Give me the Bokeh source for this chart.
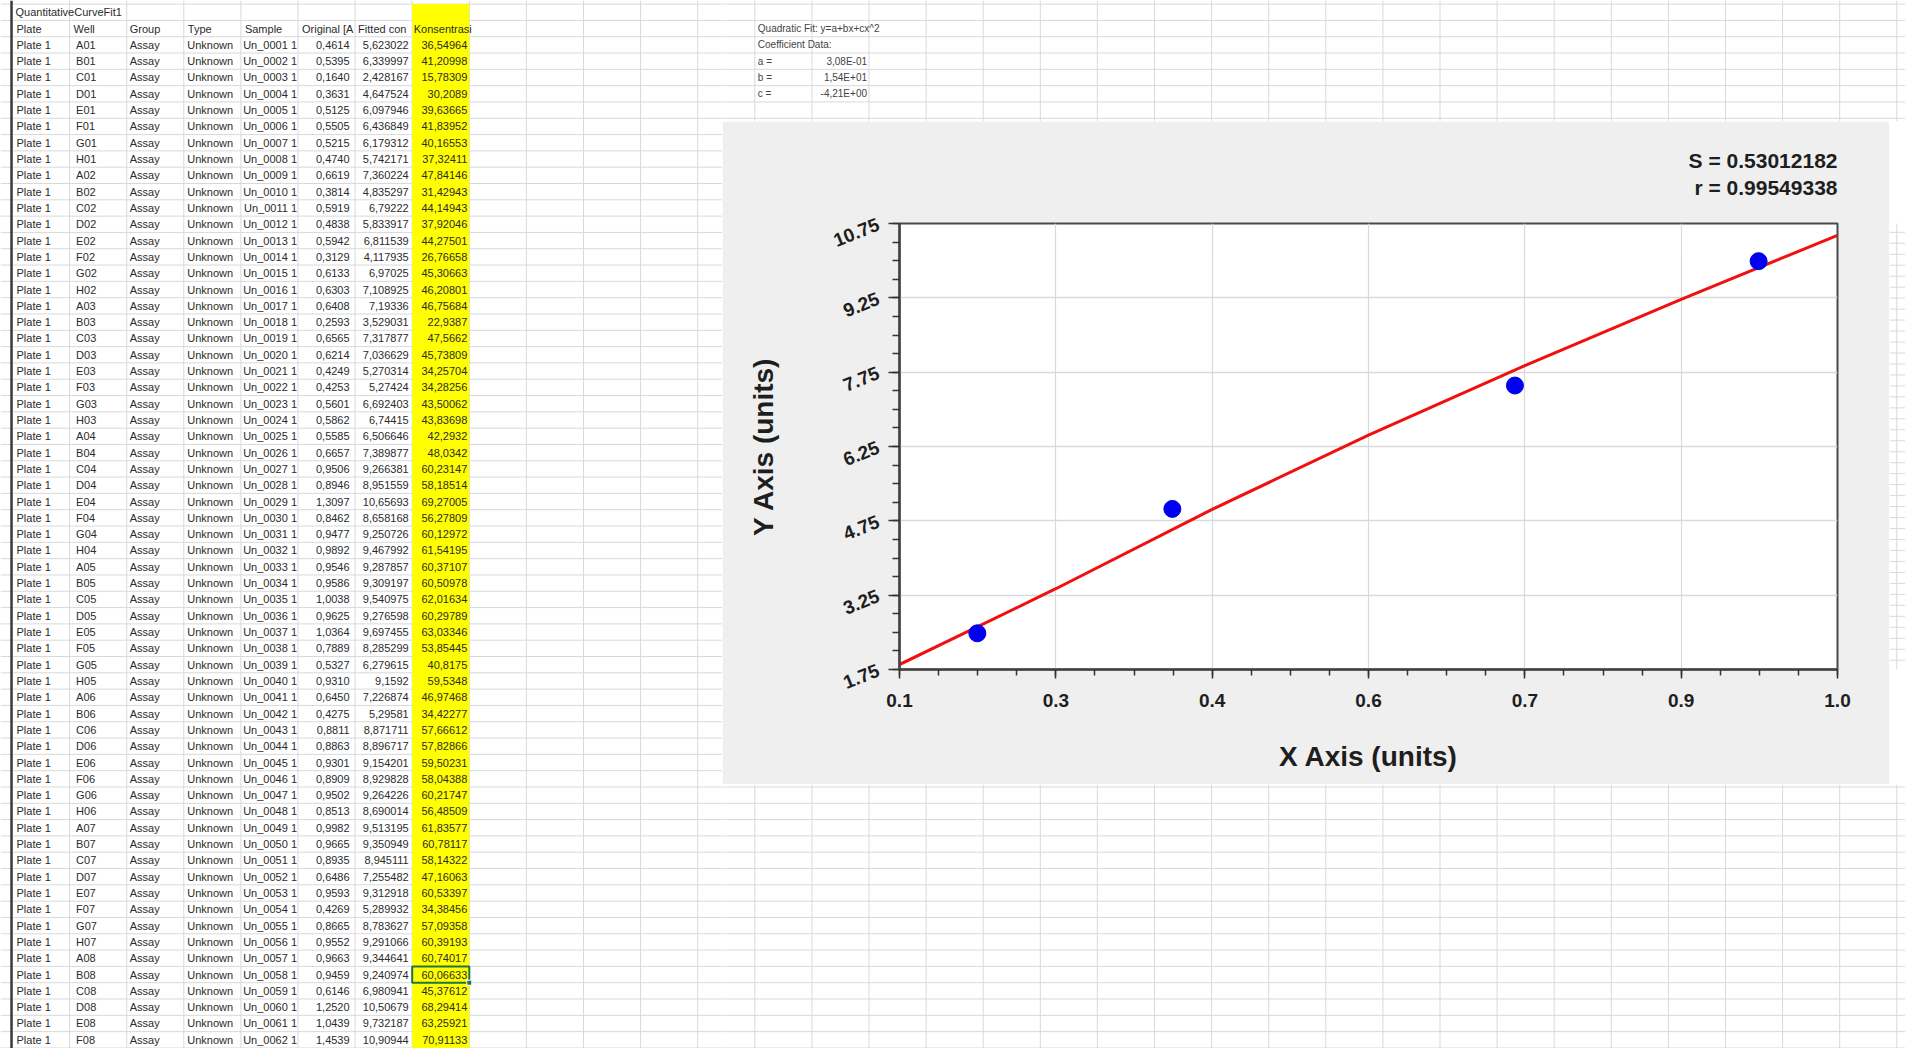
import numpy as np
from bokeh.plotting import figure
from bokeh.layouts import row, column
from bokeh.models import Range1d, FixedTicker, Title
from bokeh.core.properties import value
from bokeh.embed import file_html
from bokeh.resources import INLINE

# ---------------- spreadsheet data ----------------
sheet_title = "QuantitativeCurveFit1"
headers = ["Plate", "Well", "Group", "Type", "Sample", "Original [A", "Fitted con", "Konsentrasi"]
wells = ["A01", "B01", "C01", "D01", "E01", "F01", "G01", "H01",
         "A02", "B02", "C02", "D02", "E02", "F02", "G02", "H02",
         "A03", "B03", "C03", "D03", "E03", "F03", "G03", "H03",
         "A04", "B04", "C04", "D04", "E04", "F04", "G04", "H04",
         "A05", "B05", "C05", "D05", "E05", "F05", "G05", "H05",
         "A06", "B06", "C06", "D06", "E06", "F06", "G06", "H06",
         "A07", "B07", "C07", "D07", "E07", "F07", "G07", "H07",
         "A08", "B08", "C08", "D08", "E08", "F08"]
original = [0.4614, 0.5395, 0.1640, 0.3631, 0.5125, 0.5505, 0.5215, 0.4740,
            0.6619, 0.3814, 0.5919, 0.4838, 0.5942, 0.3129, 0.6133, 0.6303,
            0.6408, 0.2593, 0.6565, 0.6214, 0.4249, 0.4253, 0.5601, 0.5862,
            0.5585, 0.6657, 0.9506, 0.8946, 1.3097, 0.8462, 0.9477, 0.9892,
            0.9546, 0.9586, 1.0038, 0.9625, 1.0364, 0.7889, 0.5327, 0.9310,
            0.6450, 0.4275, 0.8811, 0.8863, 0.9301, 0.8909, 0.9502, 0.8513,
            0.9982, 0.9665, 0.8935, 0.6486, 0.9593, 0.4269, 0.8665, 0.9552,
            0.9663, 0.9459, 0.6146, 1.2520, 1.0439, 1.4539]
fitted = [5.623022, 6.339997, 2.428167, 4.647524, 6.097946, 6.436849, 6.179312, 5.742171,
          7.360224, 4.835297, 6.79222, 5.833917, 6.811539, 4.117935, 6.97025, 7.108925,
          7.19336, 3.529031, 7.317877, 7.036629, 5.270314, 5.27424, 6.692403, 6.74415,
          6.506646, 7.389877, 9.266381, 8.951559, 10.65693, 8.658168, 9.250726, 9.467992,
          9.287857, 9.309197, 9.540975, 9.276598, 9.697455, 8.285299, 6.279615, 9.1592,
          7.226874, 5.29581, 8.871711, 8.896717, 9.154201, 8.929828, 9.264226, 8.690014,
          9.513195, 9.350949, 8.945111, 7.255482, 9.312918, 5.289932, 8.783627, 9.291066,
          9.344641, 9.240974, 6.980941, 10.50679, 9.732187, 10.90944]
konsentrasi = [36.54964, 41.20998, 15.78309, 30.2089, 39.63665, 41.83952, 40.16553, 37.32411,
               47.84146, 31.42943, 44.14943, 37.92046, 44.27501, 26.76658, 45.30663, 46.20801,
               46.75684, 22.9387, 47.5662, 45.73809, 34.25704, 34.28256, 43.50062, 43.83698,
               42.2932, 48.0342, 60.23147, 58.18514, 69.27005, 56.27809, 60.12972, 61.54195,
               60.37107, 60.50978, 62.01634, 60.29789, 63.03346, 53.85445, 40.8175, 59.5348,
               46.97468, 34.42277, 57.66612, 57.82866, 59.50231, 58.04388, 60.21747, 56.48509,
               61.83577, 60.78117, 58.14322, 47.16063, 60.53397, 34.38456, 57.09358, 60.39193,
               60.74017, 60.06633, 45.37612, 68.29414, 63.25921, 70.91133]
samples = ["Un_%04d 1" % (i + 1) for i in range(len(wells))]
selected_row = 57  # B08 (selected cell in Konsentrasi column)

fit_note = ["Quadratic Fit: y=a+bx+cx^2", "Coefficient Data:"]
coef_names = ["a =", "b =", "c ="]
coef_values = ["3,08E-01", "1,54E+01", "-4,21E+00"]

# ---------------- chart data ----------------
std_x = [0.1747, 0.3618, 0.6905, 0.9243]
std_y = [2.48, 4.99, 7.48, 9.99]
fit_x = [0.10, 0.25, 0.40, 0.55, 0.70, 0.85, 1.00]
fit_y = [1.85, 3.38, 4.98, 6.48, 7.88, 9.22, 10.51]
x_ticks = [0.1, 0.25, 0.4, 0.55, 0.7, 0.85, 1.0]
x_tick_labels = ["0.1", "0.3", "0.4", "0.6", "0.7", "0.9", "1.0"]
y_ticks = [1.75, 3.25, 4.75, 6.25, 7.75, 9.25, 10.75]
y_tick_labels = ["1.75", "3.25", "4.75", "6.25", "7.75", "9.25", "10.75"]
stat_lines = ["S = 0.53012182", "\u00a0r = 0.99549338"]
x_label = "X Axis (units)"
y_label = "Y Axis (units)"

# ---------------- layout helpers ----------------
FONT = value("Liberation Sans")
COL0, COLW = 12.0, 57.1
ROW0, ROWH = 3.6, 16.31
GRID_COLOR = "#d9d9d9"
PAGE_W, PAGE_H = 1905, 1048
X_SPLIT = 722
CH_TOP, CH_BOT, CH_RIGHT = 121, 784, 1889


def col_left(k):
    return COL0 + COLW * k


def row_mid(r):
    return ROW0 + ROWH * (r + 0.5)


def fmt(v, spec):
    return (spec % v).replace(".", ",")


def sheet_fig(x0, x1, y0, y1):
    p = figure(width=int(x1 - x0), height=int(y1 - y0),
               x_range=Range1d(x0, x1), y_range=Range1d(y1, y0),
               output_backend="svg", toolbar_location=None, min_border=0,
               x_axis_location=None, y_axis_location=None, title_location=None,
               outline_line_color=None, border_fill_color="white",
               background_fill_color="white")
    p.grid.visible = False
    vx = [col_left(k) for k in range(0, 40) if x0 <= col_left(k) <= x1]
    hy = [ROW0 + ROWH * k for k in range(0, 70) if y0 <= ROW0 + ROWH * k <= y1]
    if vx:
        p.segment(x0=vx, x1=vx, y0=[y0] * len(vx), y1=[y1] * len(vx),
                  line_color=GRID_COLOR, line_width=1)
    if hy:
        p.segment(x0=[x0] * len(hy), x1=[x1] * len(hy), y0=hy, y1=hy,
                  line_color=GRID_COLOR, line_width=1)
    return p


def add_text(p, xs, ys, texts, align, size="11px", color="#2b2b2b"):
    p.text(x=xs, y=ys, text=texts, text_align=align, text_baseline="middle",
           text_font=FONT, text_font_size=size, text_color=color)


# ---------------- left: table ----------------
left = sheet_fig(0, X_SPLIT, 0, PAGE_H)
left.quad(left=col_left(7), right=col_left(8), top=ROW0, bottom=PAGE_H,
          fill_color="#ffff00", line_color=None)
left.segment(x0=[11.0], x1=[11.0], y0=[0], y1=[PAGE_H], line_color="#3c3c3c", line_width=2.5)

n = len(wells)
rows = [row_mid(i + 2) for i in range(n)]

lx, ly, lt = [], [], []
lx.append(col_left(0) + 3); ly.append(row_mid(0)); lt.append(sheet_title)
offs = [4, 4, 3, 4, 4, 4, 3, 1.5]
for k, h in enumerate(headers):
    lx.append(col_left(k) + offs[k]); ly.append(row_mid(1)); lt.append(h)
for i in range(n):
    lx += [col_left(0) + 4, col_left(1) + 6.5, col_left(2) + 3, col_left(3) + 3.5]
    ly += [rows[i]] * 4
    lt += ["Plate 1", wells[i], "Assay", "Unknown"]
add_text(left, lx, ly, lt, "left")

rx, ry, rt = [], [], []
for i in range(n):
    rx += [col_left(5) - 1, col_left(6) - 5.5, col_left(7) - 3.5, col_left(8) - 2]
    ry += [rows[i]] * 4
    rt += [samples[i], fmt(original[i], "%.4f"), fmt(fitted[i], "%.7g"),
           fmt(konsentrasi[i], "%.7g")]
add_text(left, rx, ry, rt, "right")

sr = selected_row + 2
left.quad(left=col_left(7), right=col_left(8), top=row_mid(sr) - ROWH / 2,
          bottom=row_mid(sr) + ROWH / 2, fill_color=None,
          line_color="#217346", line_width=2)
left.rect(x=[col_left(8)], y=[row_mid(sr) + ROWH / 2], width=5, height=5,
          fill_color="#217346", line_color="white", line_width=1)

# ---------------- right top: coefficient notes ----------------
top = sheet_fig(X_SPLIT, PAGE_W, 0, CH_TOP)
note_x = col_left(13) + 3
add_text(top, [note_x, note_x], [row_mid(1), row_mid(2)], fit_note, "left",
         size="10px", color="#444444")
add_text(top, [note_x] * 3, [row_mid(3), row_mid(4), row_mid(5)], coef_names, "left",
         size="10px", color="#444444")
add_text(top, [col_left(15) - 2] * 3, [row_mid(3), row_mid(4), row_mid(5)], coef_values,
         "right", size="10px", color="#444444")

# ---------------- chart ----------------
chart = figure(width=CH_RIGHT - X_SPLIT, height=CH_BOT - CH_TOP,
               x_range=Range1d(0.1, 1.0), y_range=Range1d(1.75, 10.75),
               output_backend="svg", toolbar_location=None, title_location=None,
               min_border_left=177, min_border_right=52,
               min_border_top=102, min_border_bottom=115,
               border_fill_color="#efefef", background_fill_color="white",
               outline_line_color="#4a4a4a", outline_line_width=2)

x_minor = [round(0.1 + 0.0375 * k, 4) for k in range(25)]
y_minor = [round(1.75 + 0.375 * k, 4) for k in range(25)]
chart.xaxis.ticker = FixedTicker(ticks=x_ticks, minor_ticks=x_minor)
chart.yaxis.ticker = FixedTicker(ticks=y_ticks, minor_ticks=y_minor)
chart.xaxis.major_label_overrides = dict(zip(x_ticks, x_tick_labels))
chart.yaxis.major_label_overrides = dict(zip(y_ticks, y_tick_labels))

for ax in (chart.xaxis[0], chart.yaxis[0]):
    ax.axis_line_color = "#444444"
    ax.axis_line_width = 2.5
    ax.major_tick_line_color = "#333333"
    ax.major_tick_line_width = 1.5
    ax.minor_tick_line_color = "#333333"
    ax.minor_tick_line_width = 1.5
    ax.major_tick_in = 0
    ax.minor_tick_in = 0
    ax.major_label_text_font = "Liberation Sans"
    ax.major_label_text_font_size = "19px"
    ax.major_label_text_font_style = "bold"
    ax.major_label_text_color = "#1e1e1e"
    ax.axis_label_text_font = "Liberation Sans"
    ax.axis_label_text_font_size = "28px"
    ax.axis_label_text_font_style = "bold"
    ax.axis_label_text_color = "#1e1e1e"

chart.xaxis.axis_label = x_label
chart.yaxis.axis_label = y_label
chart.xaxis.major_tick_out = 9
chart.xaxis.minor_tick_out = 6
chart.xaxis.major_label_standoff = 15
chart.xaxis.axis_label_standoff = 31
chart.yaxis.major_tick_out = 11
chart.yaxis.minor_tick_out = 7
chart.yaxis.major_label_standoff = 10
chart.yaxis.axis_label_standoff = 48
chart.yaxis.major_label_orientation = 0.38

chart.xgrid.grid_line_color = "#d9d9d9"
chart.ygrid.grid_line_color = "#d9d9d9"
chart.xgrid.grid_line_width = 1.2
chart.ygrid.grid_line_width = 1.5

chart.line(fit_x, fit_y, line_color="#f01010", line_width=3)
chart.scatter(std_x, std_y, size=17, fill_color="#0000f0", line_color="#0000f0")

# statistics block: one right-aligned two-line title above the frame
chart.add_layout(Title(text="\n".join(stat_lines), align="right", standoff=48,
                       text_font="Liberation Sans", text_font_size="21px",
                       text_font_style="bold", text_color="#1e1e1e",
                       text_line_height=1.2), "above")

strip = sheet_fig(CH_RIGHT, PAGE_W, CH_TOP, CH_BOT)

# ---------------- right bottom ----------------
bottom = sheet_fig(X_SPLIT, PAGE_W, CH_BOT, PAGE_H)

layout = row(left, column(top, row(chart, strip), bottom))
open("out.html", "w").write(file_html(layout, INLINE))
